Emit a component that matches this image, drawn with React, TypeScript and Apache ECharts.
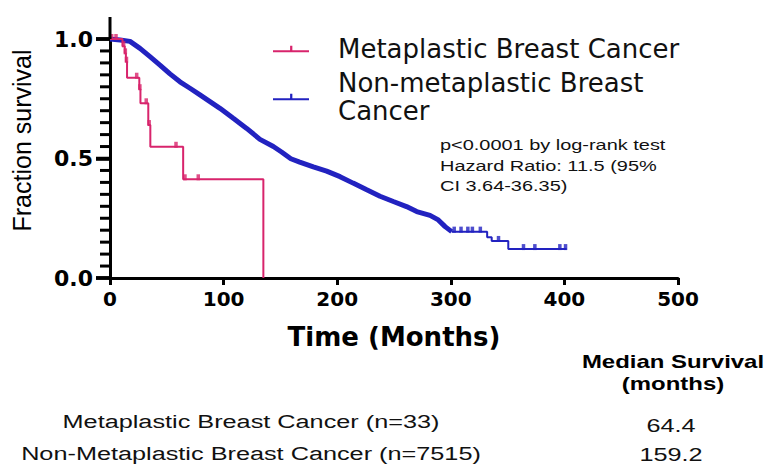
import React, { useEffect, useRef } from 'react';
import * as echarts from 'echarts';

// ---------- data ----------
const META = 'Metaplastic Breast Cancer';
const NONMETA = 'Non-metaplastic Breast Cancer';

// Kaplan-Meier steps, metaplastic (n=33)
const metaTimes = [0, 11, 13, 14, 15, 25.8, 26.8, 33.7, 35.5, 64.4, 135];
const metaSurv = [1.0, 0.97, 0.94, 0.905, 0.838, 0.79, 0.731, 0.64, 0.549, 0.413, 0];
// censored observations, metaplastic
const metaCensorTimes = [1.5, 5.3, 12, 13.5, 14.5, 23.5, 26.3, 31.9, 34.5, 58.1, 66, 77.7];
const metaCensorSurv = [1, 1, 0.97, 0.94, 0.905, 0.838, 0.79, 0.731, 0.64, 0.549, 0.413, 0.413];

// non-metaplastic (n=7515): densely censored part
const nonMetaTimes = [0, 9, 17.6, 26.4, 35.2, 44, 52.8, 61.6, 70.4, 79.2, 88, 96.8, 108.5, 120.3, 132, 143.8, 151, 159.2, 167, 179, 190.7, 202.5, 214, 226, 237.7, 249.4, 261, 270, 281.7, 289, 295, 300.8];
const nonMetaSurv = [1.0, 0.996, 0.99, 0.961, 0.926, 0.891, 0.854, 0.821, 0.794, 0.766, 0.738, 0.71, 0.668, 0.626, 0.58, 0.55, 0.527, 0.499, 0.485, 0.465, 0.447, 0.424, 0.397, 0.369, 0.342, 0.32, 0.299, 0.278, 0.262, 0.243, 0.215, 0.194];
// sparse tail (visible steps)
const nonMetaTailTimes = [300.8, 332, 336, 350.6, 402];
const nonMetaTailSurv = [0.194, 0.17, 0.155, 0.121, 0.121];
const nonMetaCensorTimes = [303, 309, 315, 319, 326, 342, 364, 374, 396, 401];
const nonMetaCensorSurv = [0.194, 0.194, 0.194, 0.194, 0.194, 0.155, 0.121, 0.121, 0.121, 0.121];

const xTickValues = [0, 100, 200, 300, 400, 500];
const yTickLabels = ['0.0', '0.5', '1.0'];
const yMajorTicks = [0, 0.5, 1.0];
const yMinorTicks = [0.05, 0.1, 0.15, 0.2, 0.25, 0.3, 0.35, 0.4, 0.45, 0.55, 0.6, 0.65, 0.7, 0.75, 0.8, 0.85, 0.9, 0.95];

const annotationLines = ['p<0.0001 by log-rank test', 'Hazard Ratio: 11.5 (95%', 'CI 3.64-36.35)'];
const tableGroups = ['Metaplastic Breast Cancer (n=33)', 'Non-Metaplastic Breast Cancer (n=7515)'];
const tableMedians = ['64.4', '159.2'];
const tableHeader = ['Median Survival', '(months)'];

// ---------- style ----------
const RED = '#D8246C';
const BLUE = '#2222C0';
const GRID = { left: 110, right: 93, top: 39, bottom: 188 };
const SX = 1.33;

const zip = (a: number[], b: number[]) => a.map((v, i) => [v, b[i]]);

function baseGraphic() {
  const graphic: any[] = [];
  // y-axis line extension above 1.0
  graphic.push({
    type: 'rect', z: 100,
    shape: { x: GRID.left - 1.5, y: 17, width: 3, height: GRID.top - 17 },
    style: { fill: '#000' },
  });
  const txt = (t: string, x: number, y: number, size: number, align: string, bold = false) => ({
    type: 'text', x, y, scaleX: SX,
    style: {
      text: t, fontFamily: 'Liberation Sans', fontWeight: bold ? 'bold' : 'normal', fontSize: size,
      fill: bold ? '#000' : '#111', align, textAlign: align, verticalAlign: 'middle', textVerticalAlign: 'middle',
    },
  });
  annotationLines.forEach((t, i) => graphic.push(txt(t, 440, 145 + i * 20.5, 15, 'left')));
  tableHeader.forEach((t, i) => graphic.push(txt(t, 673, 362 + i * 22, 18, 'center', true)));
  tableGroups.forEach((t, i) => graphic.push(txt(t, 251, 422 + i * 32, 19, 'center')));
  tableMedians.forEach((t, i) => graphic.push(txt(t, 671, 426 + i * 29, 19, 'center')));
  return graphic;
}

function buildOption() {
  const censorSymbol = { symbol: 'rect', symbolSize: [3.5, 6], symbolOffset: [0, -2] };
  return {
    animation: false,
    backgroundColor: '#fff',
    grid: GRID,
    legend: {
      data: [{ name: META }, { name: NONMETA }],
      orient: 'vertical',
      left: 268,
      top: 30,
      itemWidth: 36,
      itemHeight: 9,
      itemGap: 6,
      icon: 'path://M0,7H40V9H0Z M19,2H21.5V9H19Z',
      selectedMode: false,
      formatter: (n: string) => (n === NONMETA ? 'Non-metaplastic Breast\nCancer' : n),
      textStyle: { fontFamily: 'DejaVu Sans', fontSize: 26, color: '#111', lineHeight: 28, padding: [0, 0, 0, 24] },
    },
    xAxis: {
      type: 'value', min: 0, max: 500, interval: 100,
      axisLine: { lineStyle: { color: '#000', width: 3 } },
      axisTick: { length: 7, lineStyle: { color: '#000', width: 3 } },
      axisLabel: {
        color: '#000', fontFamily: 'DejaVu Sans', fontWeight: 'bold', fontSize: 20, margin: 11,
        formatter: (v: number) => (xTickValues.includes(v) ? String(v) : ''),
      },
      splitLine: { show: false },
      name: 'Time (Months)', nameLocation: 'middle', nameGap: 46,
      nameTextStyle: { fontFamily: 'DejaVu Sans', fontWeight: 'bold', fontSize: 26, color: '#000' },
    },
    yAxis: {
      type: 'value', min: 0, max: 1, interval: 0.5,
      axisLine: { show: true, lineStyle: { color: '#000', width: 3 } },
      axisTick: { show: true, inside: false, length: 14, lineStyle: { color: '#000', width: 3.5 } },
      axisLabel: {
        color: '#000', fontFamily: 'DejaVu Sans', fontWeight: 'bold', fontSize: 22, margin: 17,
        formatter: (v: number) => yTickLabels[Math.round(v * 2)] ?? '',
      },
      splitLine: { show: false },
      name: 'Fraction survival', nameLocation: 'middle', nameGap: 76, nameRotate: 90,
      nameTextStyle: { fontFamily: 'Liberation Sans', fontSize: 25, color: '#000', padding: [0, 0, 0, 36] },
    },
    graphic: baseGraphic(),
    series: [
      {
        name: NONMETA, type: 'line', data: zip(nonMetaTimes, nonMetaSurv), symbol: 'none',
        color: BLUE, lineStyle: { color: BLUE, width: 5 }, z: 2,
      },
      {
        name: NONMETA, type: 'line', data: zip(nonMetaTailTimes, nonMetaTailSurv), step: 'end', symbol: 'none',
        color: BLUE, lineStyle: { color: BLUE, width: 2 }, z: 2,
      },
      {
        name: 'nonMetaCensored', type: 'scatter', data: zip(nonMetaCensorTimes, nonMetaCensorSurv),
        ...censorSymbol, itemStyle: { color: BLUE }, z: 2,
      },
      {
        name: META, type: 'line', data: zip(metaTimes, metaSurv), step: 'end', symbol: 'none',
        color: RED, lineStyle: { color: RED, width: 2 }, z: 3,
      },
      {
        name: 'metaCensored', type: 'scatter', data: zip(metaCensorTimes, metaCensorSurv),
        ...censorSymbol, itemStyle: { color: RED }, z: 3,
      },
    ],
  };
}

export default function App() {
  const ref = useRef<HTMLDivElement>(null);
  useEffect(() => {
    if (!ref.current) return;
    const chart = echarts.init(ref.current, null, { renderer: 'svg' });
    chart.setOption(buildOption() as any);
    // y-axis comb ticks, placed through the y scale
    const ticks: any[] = [];
    const addTick = (v: number, len: number, w: number) => {
      const y = Number(chart.convertToPixel({ yAxisIndex: 0 }, v));
      ticks.push({
        type: 'rect', z: 100,
        shape: { x: GRID.left - len, y: y - w / 2, width: len, height: w },
        style: { fill: '#000' },
      });
    };
    yMinorTicks.forEach((v) => addTick(v, 10, 3));
    yMajorTicks.forEach((v) => addTick(v, 14, 3.5));
    chart.setOption({ graphic: [...baseGraphic(), ...ticks] } as any);
    return () => chart.dispose();
  }, []);
  return <div ref={ref} style={{ position: 'fixed', left: 0, top: 0, width: 771, height: 466 }} />;
}
